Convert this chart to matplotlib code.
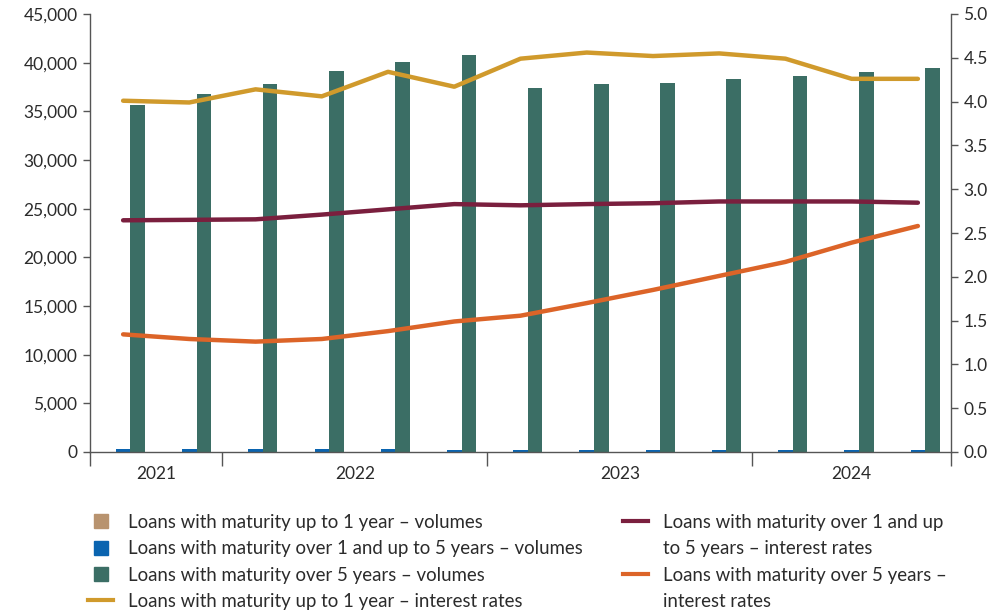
import matplotlib
matplotlib.use("Agg")
import matplotlib.pyplot as plt
from matplotlib.lines import Line2D
from matplotlib.ticker import FuncFormatter, FixedLocator
import numpy as np

plt.rcParams['font.family'] = ['Lato', 'DejaVu Sans']

# ---- data ----
quarters = ["2021Q3", "2021Q4", "2022Q1", "2022Q2", "2022Q3", "2022Q4",
            "2023Q1", "2023Q2", "2023Q3", "2023Q4", "2024Q1", "2024Q2", "2024Q3"]
years = ["2021", "2022", "2023", "2024"]
year_counts = [2, 4, 4, 3]

vol_up_to_1y = [0, 0, 0, 0, 0, 0, 0, 0, 0, 0, 0, 0, 0]
vol_1_to_5y = [340, 320, 300, 280, 260, 250, 230, 220, 210, 200, 190, 190, 180]
vol_over_5y = [35650, 36780, 37810, 39150, 40100, 40790, 37430, 37780, 37950,
               38320, 38660, 39040, 39420]

rate_up_to_1y = [4.01, 3.99, 4.14, 4.06, 4.34, 4.17, 4.49, 4.56, 4.52, 4.55,
                 4.49, 4.26, 4.26]
rate_1_to_5y = [2.645, 2.65, 2.656, 2.71, 2.77, 2.83, 2.816, 2.83, 2.84, 2.86,
                2.86, 2.86, 2.846]
rate_over_5y = [1.343, 1.29, 1.26, 1.29, 1.38, 1.49, 1.556, 1.70, 1.85, 2.01,
                2.17, 2.39, 2.58]

labels = ["Loans with maturity up to 1 year – volumes",
          "Loans with maturity over 1 and up to 5 years – volumes",
          "Loans with maturity over 5 years – volumes",
          "Loans with maturity up to 1 year – interest rates",
          "Loans with maturity over 1 and up",
          "to 5 years – interest rates",
          "Loans with maturity over 5 years –",
          "interest rates"]

# ---- style ----
c_tan = "#b8936f"
c_blue = "#0a64b0"
c_green = "#3b6e65"
c_yellow = "#d09a2c"
c_maroon = "#7a1f3e"
c_orange = "#dc6428"
c_text = "#2b2b2b"
c_axis = "#555555"

fig = plt.figure(figsize=(10.08, 6.14), dpi=100)
ax = fig.add_axes([90 / 1008, 1 - 452 / 614, (951 - 90) / 1008, (452 - 14) / 614])
ax2 = ax.twinx()

x = np.arange(len(quarters))
w = 0.22
ax.bar(x - w, vol_up_to_1y, w, color=c_tan, zorder=2)
ax.bar(x, vol_1_to_5y, w, color=c_blue, zorder=2)
ax.bar(x + w, vol_over_5y, w, color=c_green, zorder=2)

ax2.plot(x, rate_up_to_1y, color=c_yellow, lw=3.2, solid_capstyle='round')
ax2.plot(x, rate_1_to_5y, color=c_maroon, lw=3.2, solid_capstyle='round')
ax2.plot(x, rate_over_5y, color=c_orange, lw=3.2, solid_capstyle='round')

ax.set_xlim(-0.5, len(quarters) - 0.5)
ax.set_ylim(0, 45000)
ax2.set_ylim(0, 5.0)
ax.set_yticks(np.arange(0, 45001, 5000))
ax2.set_yticks(np.arange(0, 5.01, 0.5))
ax.yaxis.set_major_formatter(FuncFormatter(lambda v, p: f"{v:,.0f}"))
ax2.yaxis.set_major_formatter(FuncFormatter(lambda v, p: f"{v:.1f}"))

# year ticks at boundaries, labels at centres
bounds = np.concatenate([[0], np.cumsum(year_counts)]) - 0.5
centres = (bounds[:-1] + bounds[1:]) / 2
ax.xaxis.set_major_locator(FixedLocator(bounds))
ax.set_xticklabels([""] * len(bounds))
ax.xaxis.set_minor_locator(FixedLocator(centres))
ax.set_xticklabels(years, minor=True)
ax.tick_params(axis='x', which='major', length=10, width=1, color=c_axis)
ax.tick_params(axis='x', which='minor', length=0, pad=10, labelsize=12.5,
               labelcolor=c_text)
ax.tick_params(axis='y', length=5, width=1, color=c_axis, labelsize=12.5,
               labelcolor=c_text, pad=4)
ax2.tick_params(axis='y', length=5, width=1, color=c_axis, labelsize=12.5,
                labelcolor=c_text, pad=4)

for a in (ax, ax2):
    a.spines['top'].set_visible(False)
    for s in ('left', 'right', 'bottom'):
        a.spines[s].set_color(c_axis)
        a.spines[s].set_linewidth(1)
ax.spines['right'].set_visible(False)
ax2.spines['left'].set_visible(False)
ax2.spines['bottom'].set_visible(False)

# ---- legends ----
sq = dict(marker='s', ls='', markersize=10.5)
h_left = [Line2D([], [], color=c_tan, **sq),
          Line2D([], [], color=c_blue, **sq),
          Line2D([], [], color=c_green, **sq),
          Line2D([], [], color=c_yellow, lw=3)]
h_right = [Line2D([], [], color=c_maroon, lw=3),
           Line2D([], [], color='none', lw=3),
           Line2D([], [], color=c_orange, lw=3),
           Line2D([], [], color='none', lw=3)]
common = dict(frameon=False, fontsize=13.4, handlelength=1.35, handletextpad=0.78,
              labelspacing=0.5, borderpad=0, borderaxespad=0, loc='upper left',
              labelcolor=c_text)
fig.legend(h_left, labels[:4], bbox_to_anchor=(88 / 1008, 1 - 514 / 614), **common)
fig.legend(h_right, labels[4:], bbox_to_anchor=(623 / 1008, 1 - 514 / 614), **common)

fig.savefig("out.png", dpi=100)
